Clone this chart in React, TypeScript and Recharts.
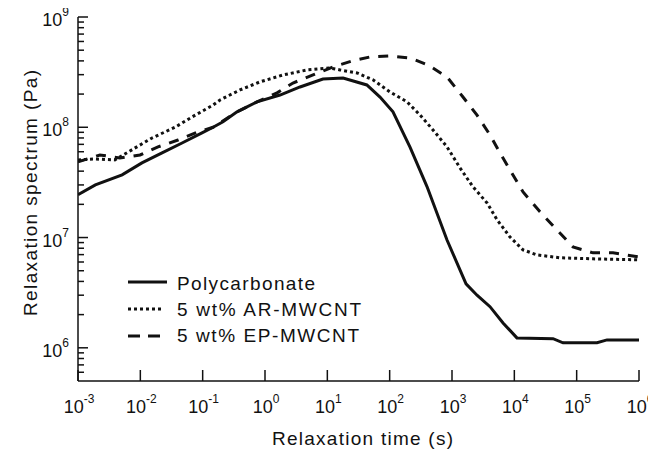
import React from 'react';
import { LineChart, Line, XAxis, YAxis, Legend } from 'recharts';

// ---- Data ----
const polyTime = [0.001, 0.0019, 0.0051, 0.0106, 0.0223, 0.0467, 0.0975, 0.147, 0.212, 0.356, 0.745, 1.74, 3.65, 8.5, 17.9, 43, 70, 113, 212, 397, 832, 1680, 2520, 4070, 6590, 11000, 41800, 60400, 212000, 307000, 1000000];
const polyValue = [2.44e7, 3.0e7, 3.7e7, 4.75e7, 5.85e7, 7.2e7, 8.9e7, 1.0e8, 1.12e8, 1.38e8, 1.7e8, 1.96e8, 2.32e8, 2.74e8, 2.8e8, 2.42e8, 1.88e8, 1.38e8, 6.6e7, 2.9e7, 9.5e6, 3.8e6, 3.0e6, 2.36e6, 1.68e6, 1.23e6, 1.21e6, 1.11e6, 1.11e6, 1.18e6, 1.18e6];

const arTime = [0.001, 0.0019, 0.0039, 0.0073, 0.0154, 0.036, 0.0675, 0.147, 0.19, 0.397, 0.83, 1.95, 4.7, 11, 16, 30, 54, 101, 190, 307, 496, 832, 1345, 2170, 3650, 5280, 8530, 13800, 23100, 54100, 183000, 1000000];
const arValue = [5.06e7, 5.16e7, 5.06e7, 6.24e7, 8.0e7, 1.0e8, 1.24e8, 1.59e8, 1.77e8, 2.18e8, 2.58e8, 2.98e8, 3.31e8, 3.45e8, 3.31e8, 3.11e8, 2.69e8, 2.09e8, 1.7e8, 1.29e8, 9.46e7, 6.64e7, 4.28e7, 2.88e7, 2.06e7, 1.45e7, 1.01e7, 7.73e6, 6.96e6, 6.55e6, 6.41e6, 6.28e6];

const epTime = [0.001, 0.00225, 0.0047, 0.0099, 0.0192, 0.0402, 0.0841, 0.147, 0.356, 0.745, 1.56, 2.81, 5.9, 12.3, 24.9, 48.4, 101, 212, 412, 832, 1500, 2520, 4070, 5890, 8530, 13800, 25800, 48400, 87300, 183000, 383000, 1000000];
const epValue = [4.85e7, 5.61e7, 5.27e7, 5.61e7, 6.64e7, 7.67e7, 9.08e7, 1.0e8, 1.38e8, 1.7e8, 2.05e8, 2.52e8, 2.98e8, 3.52e8, 3.99e8, 4.34e8, 4.43e8, 4.25e8, 3.67e8, 2.86e8, 1.88e8, 1.29e8, 8.51e7, 5.85e7, 4.1e7, 2.59e7, 1.71e7, 1.17e7, 8.22e6, 7.26e6, 7.26e6, 6.68e6];

const seriesNames = ['Polycarbonate', '5 wt% AR-MWCNT', '5 wt% EP-MWCNT'];

const xTickValues = [1e-3, 1e-2, 1e-1, 1e0, 1e1, 1e2, 1e3, 1e4, 1e5, 1e6];
const xTickExponents = ['-3', '-2', '-1', '0', '1', '2', '3', '4', '5', '6'];
const yMajorTicks = [1e6, 1e7, 1e8, 1e9];
const yTickExponents = ['6', '7', '8', '9'];
const yMinorTicks = [6e5, 7e5, 8e5, 9e5, 2e6, 3e6, 4e6, 5e6, 6e6, 7e6, 8e6, 9e6, 2e7, 3e7, 4e7, 5e7, 6e7, 7e7, 8e7, 9e7, 2e8, 3e8, 4e8, 5e8, 6e8, 7e8, 8e8, 9e8];

const xLabel = 'Relaxation time (s)';
const yLabel = 'Relaxation spectrum (Pa)';

const polyData = polyTime.map((t, i) => ({ t, v: polyValue[i] }));
const arData = arTime.map((t, i) => ({ t, v: arValue[i] }));
const epData = epTime.map((t, i) => ({ t, v: epValue[i] }));
const yAllTicks = [...yMinorTicks, ...yMajorTicks].sort((a, b) => a - b);

const FONT = '"Liberation Sans", Arial, Helvetica, sans-serif';
const INK = '#111';

const XTick = (props: any) => {
  const { x, y, payload } = props;
  const idx = xTickValues.findIndex((v) => Math.abs(Math.log10(v) - Math.log10(payload.value)) < 1e-6);
  const exp = idx >= 0 ? xTickExponents[idx] : '';
  return (
    <g>
      <line x1={x} y1={y} x2={x} y2={y - 11} stroke={INK} strokeWidth={1.5} />
      <text x={x + 1} y={y + 32} textAnchor="middle" fontSize={18} fontFamily={FONT} fill={INK}>
        <tspan>10</tspan>
        <tspan dy={-10} fontSize={12}>{exp}</tspan>
      </text>
    </g>
  );
};

const YTick = (props: any) => {
  const { x, y, payload } = props;
  const idx = yMajorTicks.findIndex((v) => Math.abs(Math.log10(v) - Math.log10(payload.value)) < 1e-6);
  const major = idx >= 0;
  return (
    <g>
      <line x1={x} y1={y} x2={x + (major ? 10 : 6)} y2={y} stroke={INK} strokeWidth={1.5} />
      {major && (
        <text x={x - 9} y={y + 9} textAnchor="end" fontSize={18} fontFamily={FONT} fill={INK}>
          <tspan>10</tspan>
          <tspan dy={-10} fontSize={12}>{yTickExponents[idx]}</tspan>
        </text>
      )}
    </g>
  );
};

const LegendContent = () => {
  const rows = [
    { name: seriesNames[0], dash: undefined, width: 3, x2: 167, len: 138 },
    { name: seriesNames[1], dash: '3 3', width: 3, x2: 163, len: 184 },
    { name: seriesNames[2], dash: '12 8', width: 3, x2: 162, len: 182 },
  ];
  return (
    <svg width={656} height={452} style={{ position: 'absolute', left: 0, top: 0 }}>
      {rows.map((r, i) => (
        <g key={r.name}>
          <line x1={128} x2={r.x2} y1={282 + i * 27} y2={282 + i * 27} stroke={INK} strokeWidth={r.width} strokeDasharray={r.dash} />
          <text x={177} y={290 + i * 26} fontSize={19} textLength={r.len} lengthAdjust="spacing" fontFamily={FONT} fill={INK}>{r.name}</text>
        </g>
      ))}
    </svg>
  );
};

export default function App() {
  return (
    <div style={{ width: 656, height: 452, position: 'relative', marginLeft: -8, marginTop: -8 }}>
      <LineChart width={656} height={452} margin={{ top: 17, right: 17, bottom: 0, left: 8 }}>
        <XAxis
          dataKey="t"
          type="number"
          scale="log"
          domain={[1e-3, 1e6]}
          ticks={xTickValues}
          interval={0}
          allowDataOverflow
          height={71}
          tickSize={0}
          tickMargin={0}
          tickLine={false}
          tick={<XTick />}
          axisLine={{ stroke: INK, strokeWidth: 1.5 }}
          label={{
            content: () => (
              <text x={272} y={445} fontSize={19} textLength={181} lengthAdjust="spacing" fontFamily={FONT} fill={INK}>{xLabel}</text>
            ),
          }}
        />
        <XAxis
          xAxisId="top"
          orientation="top"
          type="number"
          scale="log"
          domain={[1e-3, 1e6]}
          height={0}
          tick={false}
          tickLine={false}
          axisLine={{ stroke: INK, strokeWidth: 1.5 }}
        />
        <YAxis
          type="number"
          scale="log"
          domain={[5e5, 1e9]}
          ticks={yAllTicks}
          interval={0}
          allowDataOverflow
          width={70}
          tickSize={0}
          tickMargin={0}
          tickLine={false}
          tick={<YTick />}
          axisLine={{ stroke: INK, strokeWidth: 1.5 }}
          label={{
            content: () => (
              <text x={37} y={316} transform="rotate(-90 37 316)" fontSize={19} textLength={246} lengthAdjust="spacing" fontFamily={FONT} fill={INK}>{yLabel}</text>
            ),
          }}
        />
        <YAxis
          yAxisId="right"
          orientation="right"
          type="number"
          scale="log"
          domain={[5e5, 1e9]}
          width={0}
          tick={false}
          tickLine={false}
          axisLine={{ stroke: INK, strokeWidth: 1.5 }}
        />
        <Legend
          layout="vertical"
          align="center"
          verticalAlign="middle"
          content={<LegendContent />}
          wrapperStyle={{ left: 0, top: 0, width: 656, height: 452, pointerEvents: 'none' }}
        />
        <Line data={polyData} dataKey="v" name={seriesNames[0]} stroke={INK} strokeWidth={3} dot={false} isAnimationActive={false} type="linear" />
        <Line data={arData} dataKey="v" name={seriesNames[1]} stroke={INK} strokeWidth={3} strokeDasharray="3 3" dot={false} isAnimationActive={false} type="linear" />
        <Line data={epData} dataKey="v" name={seriesNames[2]} stroke={INK} strokeWidth={3} strokeDasharray="10 9" dot={false} isAnimationActive={false} type="linear" />
      </LineChart>
    </div>
  );
}
